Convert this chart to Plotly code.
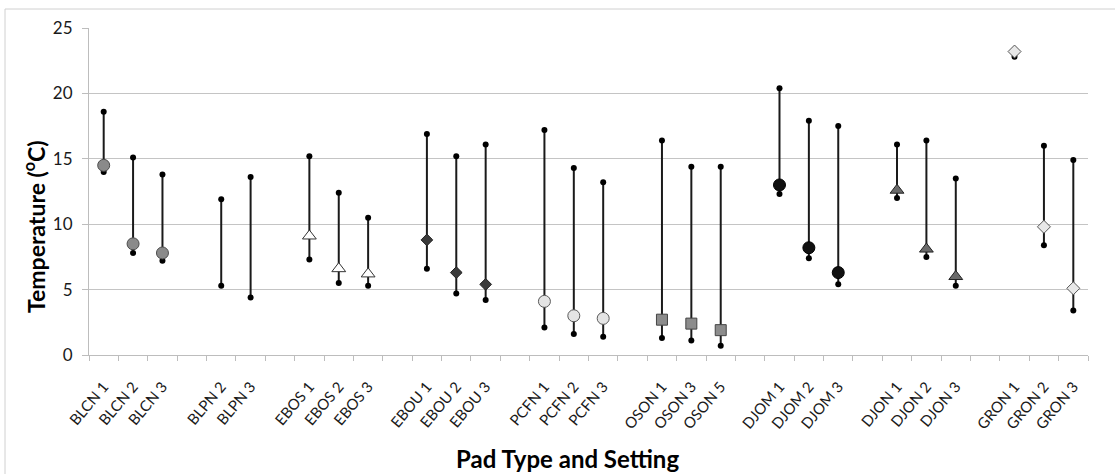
import plotly.graph_objects as go

# Pad sites and temperature summary (°C)
sites = ["BLCN 1", "BLCN 2", "BLCN 3",
         "BLPN 2", "BLPN 3",
         "EBOS 1", "EBOS 2", "EBOS 3",
         "EBOU 1", "EBOU 2", "EBOU 3",
         "PCFN 1", "PCFN 2", "PCFN 3",
         "OSON 1", "OSON 3", "OSON 5",
         "DJOM 1", "DJOM 2", "DJOM 3",
         "DJON 1", "DJON 2", "DJON 3",
         "GRON 1", "GRON 2", "GRON 3"]
t_max = [18.6, 15.1, 13.8,
         11.9, 13.6,
         15.2, 12.4, 10.5,
         16.9, 15.2, 16.1,
         17.2, 14.3, 13.2,
         16.4, 14.4, 14.4,
         20.4, 17.9, 17.5,
         16.1, 16.4, 13.5,
         23.3, 16.0, 14.9]
t_min = [14.0, 7.8, 7.2,
         5.3, 4.4,
         7.3, 5.5, 5.3,
         6.6, 4.7, 4.2,
         2.1, 1.6, 1.4,
         1.3, 1.1, 0.7,
         12.3, 7.4, 5.4,
         12.0, 7.5, 5.3,
         22.8, 8.4, 3.4]
t_mean = [14.5, 8.5, 7.8,
          None, None,
          9.1, 6.6, 6.2,
          8.8, 6.3, 5.4,
          4.1, 3.0, 2.8,
          2.7, 2.4, 1.9,
          13.0, 8.2, 6.3,
          12.6, 8.1, 6.0,
          23.2, 9.8, 5.1]

# marker style for the mean of each pad type
styles = {
    "BLCN": dict(symbol="circle", size=12, color="#8a8a8a", line=dict(color="#4d4d4d", width=1)),
    "EBOS": dict(symbol="triangle-up", size=12, color="#ffffff", line=dict(color="#333333", width=1)),
    "EBOU": dict(symbol="diamond", size=9, color="#3a3a3a", line=dict(color="#222222", width=1)),
    "PCFN": dict(symbol="circle", size=12, color="#e4e4e4", line=dict(color="#5a5a5a", width=1)),
    "OSON": dict(symbol="square", size=11, color="#8c8c8c", line=dict(color="#444444", width=1)),
    "DJOM": dict(symbol="circle", size=12, color="#111111", line=dict(color="#000000", width=1)),
    "DJON": dict(symbol="triangle-up", size=12, color="#6a6a6a", line=dict(color="#222222", width=1)),
    "GRON": dict(symbol="diamond", size=10, color="#e8e8e8", line=dict(color="#555555", width=1)),
}

# slot index of each site, leaving an empty slot between pad types
xpos = []
slot = 0
prev = None
for s in sites:
    g = s.split()[0]
    if prev is not None and g != prev:
        slot += 1
    xpos.append(slot)
    slot += 1
    prev = g
n_slots = slot
boundaries = [i - 0.5 for i in range(n_slots + 1)]

font = "Lato, 'Open Sans', sans-serif"
fig = go.Figure()

# range lines
lx, ly = [], []
for x, lo, hi in zip(xpos, t_min, t_max):
    lx += [x, x, None]
    ly += [lo, hi, None]
fig.add_trace(go.Scatter(x=lx, y=ly, mode="lines",
                         line=dict(color="#1a1a1a", width=2), hoverinfo="skip"))

# min / max end points
fig.add_trace(go.Scatter(x=xpos + xpos, y=t_min + t_max, mode="markers",
                         marker=dict(color="#000000", size=6)))

# mean markers by pad type
for g, st in styles.items():
    xs = [x for x, s, m in zip(xpos, sites, t_mean) if s.startswith(g) and m is not None]
    ys = [m for s, m in zip(sites, t_mean) if s.startswith(g) and m is not None]
    fig.add_trace(go.Scatter(x=xs, y=ys, mode="markers", marker=st, name=g))

L, R, T, B = 89, 27, 28, 119
W, H = 1115, 474
pw, ph = W - L - R, H - T - B

def px_x(p):
    return (p - L) / pw

def px_y(p):
    return (H - B - p) / ph

fig.update_layout(
    width=W, height=H,
    margin=dict(l=L, r=R, t=T, b=B),
    paper_bgcolor="white", plot_bgcolor="white",
    showlegend=False,
    font=dict(family=font, color="#1a1a1a"),
    xaxis=dict(range=[-0.5, n_slots - 0.5], tickvals=xpos, ticktext=sites,
               ticks="", showline=True, linecolor="#bdbdbd", linewidth=1,
               minor=dict(tickvals=boundaries, ticks="outside", ticklen=5,
                          tickcolor="#bdbdbd", showgrid=False),
               showgrid=False, zeroline=False, tickangle=-50, ticklabelstandoff=16,
               tickfont=dict(size=15, family=font, color="#1a1a1a")),
    yaxis=dict(range=[0, 25], tickvals=[0, 5, 10, 15, 20, 25],
               ticks="outside", ticklen=6, tickcolor="#bdbdbd",
               showline=True, linecolor="#bdbdbd", linewidth=1,
               gridcolor="#c4c4c4", gridwidth=1, zeroline=False, ticklabelstandoff=6,
               tickfont=dict(size=17, family=font, color="#1a1a1a")),
    annotations=[
        dict(text="<b>Pad Type and Setting</b>", xref="paper", yref="paper",
             x=px_x(567), y=px_y(458), xanchor="center", yanchor="middle", showarrow=False,
             font=dict(size=24, family=font, color="#000000")),
        dict(text="<b>Temperature (<sup>o</sup>C)</b>", xref="paper", yref="paper",
             x=px_x(34), y=px_y(227), xanchor="center", yanchor="middle",
             showarrow=False, textangle=-90,
             font=dict(size=23, family=font, color="#000000")),
    ],
    shapes=[dict(type="rect", xref="paper", yref="paper",
                 x0=px_x(5), x1=px_x(1200), y0=px_y(600), y1=px_y(9),
                 line=dict(color="#d0d0d0", width=1), layer="below")],
)

fig.write_html("out.html")
